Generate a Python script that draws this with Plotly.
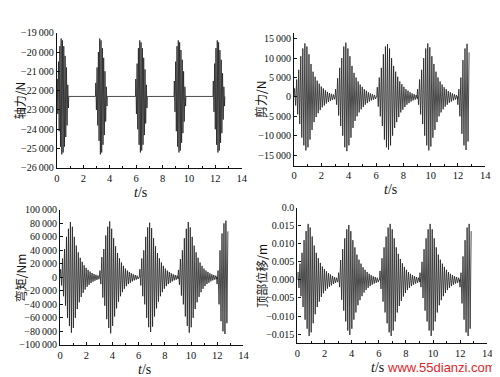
import plotly.graph_objects as go

# ---------------- data ----------------
# axial force: baseline and per-cycle amplitudes of each burst (N)
axial_base = -22300
axial_starts = [0.0, 2.92, 5.95, 8.87, 11.82]
axial_period = 0.1
axial_amp = [
    [900, 1800, 2600, 3000, 2900, 2600, 2100, 1500, 600],
    [700, 1500, 2300, 3000, 2900, 2500, 2000, 1300, 500],
    [900, 1700, 2500, 2900, 2800, 2500, 2000, 1400, 600],
    [800, 1800, 2600, 2900, 2800, 2400, 1900, 1300, 500],
    [800, 1700, 2500, 2900, 2800, 2400, 1900, 1200, 500],
]

# shear, moment, top displacement: burst start times and per-cycle amplitudes
burst_starts = [0.0, 3.0, 6.05, 9.0, 11.95]
burst_period = 0.15
burst_first_sign = [1, 1, 1, 1, -1]

shear_amp = [
    [2200, 4500, 7000, 10500, 12500, 13800, 13000, 11000, 8500, 6500, 5200, 4200, 3400, 2700, 2200, 1700, 1300, 1000, 800, 600],
    [2000, 4800, 7500, 10000, 13000, 14000, 12500, 10500, 8000, 6200, 5000, 4000, 3200, 2600, 2000, 1600, 1200, 900, 700, 500],
    [2500, 5000, 7500, 11000, 13000, 13600, 12500, 10000, 8000, 6500, 5200, 4000, 3300, 2600, 2000, 1600, 1200, 900, 700, 500],
    [2000, 4500, 7000, 10000, 12500, 13800, 12800, 10500, 8500, 6500, 5000, 4000, 3200, 2500, 2000, 1500, 1200, 900, 700, 500],
    [2000, 5000, 9500, 12500, 13700, 11500],
]
moment_amp = [
    [12000, 28000, 42000, 60000, 72000, 82000, 75000, 60000, 47000, 37000, 29000, 23000, 18000, 14000, 11000, 8500, 6500, 5000, 3800, 2800],
    [10000, 30000, 42000, 62000, 75000, 83000, 72000, 58000, 46000, 36000, 28000, 22000, 17000, 13000, 10000, 8000, 6000, 4500, 3500, 2500],
    [12000, 28000, 40000, 60000, 74000, 81000, 73000, 58000, 46000, 36000, 28000, 22000, 17000, 13000, 10000, 8000, 6000, 4500, 3500, 2500],
    [11000, 27000, 40000, 58000, 72000, 82000, 74000, 60000, 47000, 37000, 29000, 22000, 17000, 13000, 10000, 8000, 6000, 4500, 3500, 2500],
    [10000, 40000, 65000, 80000, 84000, 68000],
]
disp_amp = [
    [0.0022, 0.0045, 0.0075, 0.011, 0.0135, 0.0155, 0.0145, 0.012, 0.0095, 0.0075, 0.006, 0.0047, 0.0037, 0.003, 0.0024, 0.0019, 0.0015, 0.0011, 0.0008, 0.0006],
    [0.002, 0.0055, 0.0085, 0.0115, 0.014, 0.0152, 0.0135, 0.011, 0.009, 0.007, 0.0056, 0.0045, 0.0035, 0.0028, 0.0022, 0.0017, 0.0013, 0.001, 0.0008, 0.0006],
    [0.0025, 0.006, 0.009, 0.012, 0.0145, 0.0155, 0.014, 0.0115, 0.009, 0.0072, 0.0058, 0.0046, 0.0036, 0.0028, 0.0022, 0.0017, 0.0013, 0.001, 0.0008, 0.0006],
    [0.002, 0.005, 0.0085, 0.0115, 0.014, 0.0155, 0.014, 0.0115, 0.009, 0.007, 0.0056, 0.0045, 0.0036, 0.0028, 0.0022, 0.0017, 0.0013, 0.001, 0.0008, 0.0006],
    [0.002, 0.0065, 0.011, 0.0145, 0.0155, 0.0135],
]

x_ticks = [0, 2, 4, 6, 8, 10, 12, 14]
axial_ticks = [-26000, -25000, -24000, -23000, -22000, -21000, -20000, -19000]
shear_ticks = [-15000, -10000, -5000, 0, 5000, 10000, 15000]
moment_ticks = [-100000, -80000, -60000, -40000, -20000, 0, 20000, 40000, 60000, 80000, 100000]
disp_ticks = [-0.015, -0.010, -0.005, 0.0, 0.005, 0.010, 0.015, 0.020]
disp_labels = ["−0.015", "−0.010", "−0.005", "0.000", "0.005", "0.010", "0.015", "0.0"]

titles_y = ["轴力/N", "剪力/N", "弯矩/Nm", "顶部位移/m"]


# ---------------- build series ----------------
def build(starts, period, amps, base, signs, tail_last=False):
    xs, ys = [], []
    for b, (s, a) in enumerate(zip(starts, amps)):
        sg = signs[b]
        xs.append(s); ys.append(base)
        for k, A in enumerate(a):
            xs.append(s + k * period + period / 4); ys.append(base + sg * A)
            xs.append(s + k * period + 3 * period / 4); ys.append(base - sg * A)
        if b < len(starts) - 1 or tail_last:
            xs.append(s + len(a) * period); ys.append(base)
    return xs, ys


ax_x, ax_y = build(axial_starts, axial_period, axial_amp, axial_base, [1] * 5, tail_last=True)
sh_x, sh_y = build(burst_starts, burst_period, shear_amp, 0, burst_first_sign)
mo_x, mo_y = build(burst_starts, burst_period, moment_amp, 0, burst_first_sign)
di_x, di_y = build(burst_starts, burst_period, disp_amp, 0, burst_first_sign)


def fmt(v):
    s = f"{abs(int(v)):,}".replace(",", "\u2009")
    return ("−" if v < 0 else "") + s


W, H = 500, 377
def px_x(p): return p / W
def px_y(p): return 1 - p / H

panels = [
    dict(x=(46.7, 235.0), y=(19.3, 159.0), yr=[-26000, -19000], yt=axial_ticks, yl=[fmt(v) for v in axial_ticks], dx=ax_x, dy=ax_y, tx=132),
    dict(x=(288.3, 483.0), y=(20.0, 156.7), yr=[-17750, 16400], yt=shear_ticks, yl=[fmt(v) for v in shear_ticks], dx=sh_x, dy=sh_y, tx=386),
    dict(x=(50.0, 236.7), y=(202.3, 341.7), yr=[-100000, 100000], yt=moment_ticks, yl=[fmt(v) for v in moment_ticks], dx=mo_x, dy=mo_y, tx=136),
    dict(x=(291.7, 485.0), y=(200.0, 340.0), yr=[-0.0175, 0.020], yt=disp_ticks, yl=disp_labels, dx=di_x, dy=di_y, tx=373),
]

fig = go.Figure()
tick_font = dict(family="Liberation Serif", size=10, color="#111")
layout = dict(
    width=W, height=H, margin=dict(l=0, r=0, t=0, b=0),
    paper_bgcolor="white", plot_bgcolor="white", showlegend=False,
)
annotations = []
for i, p in enumerate(panels):
    n = "" if i == 0 else str(i + 1)
    fig.add_trace(go.Scatter(x=p["dx"], y=p["dy"], mode="lines",
                             line=dict(color="#1e1e1e", width=0.8),
                             xaxis="x" + n, yaxis="y" + n, hoverinfo="skip"))
    layout["xaxis" + n] = dict(
        domain=[px_x(p["x"][0]), px_x(p["x"][1])], anchor="y" + n,
        range=[0, 14], tickvals=x_ticks, ticktext=[str(v) for v in x_ticks],
        showline=True, linecolor="#111", linewidth=1.2, showgrid=False, zeroline=False,
        ticks="inside", ticklen=3, tickcolor="#111",
        tickfont=dict(family="Liberation Serif", size=10.5, color="#111"),
        minor=dict(ticks="inside", ticklen=2, dtick=1, tickcolor="#111"),
    )
    layout["yaxis" + n] = dict(
        domain=[px_y(p["y"][1]), px_y(p["y"][0])], anchor="x" + n,
        range=p["yr"], tickvals=p["yt"], ticktext=p["yl"],
        showline=True, linecolor="#111", linewidth=1.2, showgrid=False, zeroline=False,
        ticks="inside", ticklen=3, tickcolor="#111", tickfont=tick_font,
    )
    annotations.append(dict(
        text="<i>t</i>/s", x=px_x(p["tx"]), y=px_y(p["y"][1] + 25), xref="paper", yref="paper",
        showarrow=False, font=dict(family="Liberation Serif", size=14, color="#111"),
        xanchor="center", yanchor="middle"))

y_title_x = [8, 254, 10, 255]
for i, p in enumerate(panels):
    cy = (p["y"][0] + p["y"][1]) / 2
    annotations.append(dict(
        text=titles_y[i], x=px_x(y_title_x[i]), y=px_y(cy), xref="paper", yref="paper",
        showarrow=False, textangle=-90,
        font=dict(family="Noto Sans CJK SC", size=12, color="#111"),
        xanchor="center", yanchor="middle"))

annotations.append(dict(
    text="www.55dianzi.com", x=px_x(496), y=px_y(365), xref="paper", yref="paper",
    showarrow=False, xanchor="right", yanchor="middle",
    font=dict(family="Liberation Sans", size=13, color="#e0262b")))

layout["annotations"] = annotations
fig.update_layout(**layout)
fig.write_html("out.html")
